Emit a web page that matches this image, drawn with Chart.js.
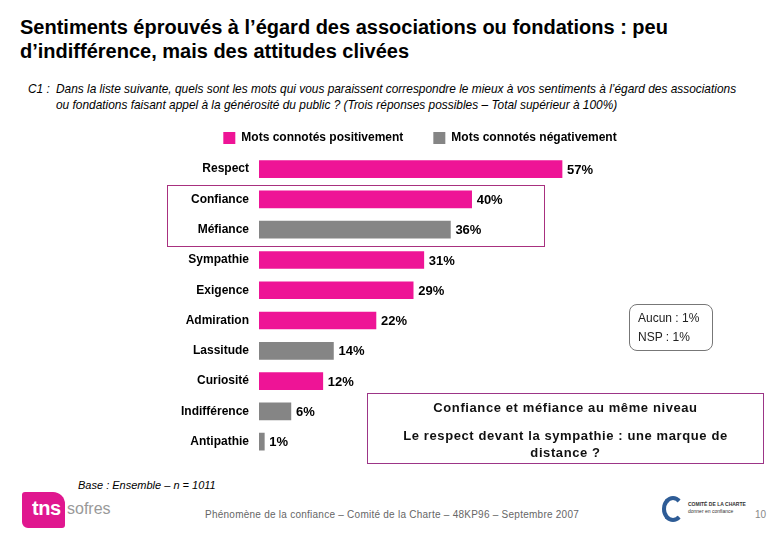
<!DOCTYPE html>
<html>
<head>
<meta charset="utf-8">
<script src="https://cdn.jsdelivr.net/npm/chart.js@4.4.1/dist/chart.umd.min.js"></script>
<style>
  body { margin: 0; background: #fff; font-family: "Liberation Sans", Arial, sans-serif; }
  #page { position: relative; width: 780px; height: 540px; overflow: hidden; }
  .abs { position: absolute; }
  #title { left: 20px; top: 15px; font-size: 20px; font-weight: bold; line-height: 24px; color: #000; }
  #question { left: 28px; top: 81px; font-size: 11.9px; font-style: italic; line-height: 16px; color: #000; white-space: nowrap; }
  #question .lbl { position: absolute; left: 0; top: 0; }
  #question .txt { position: absolute; left: 28px; top: 0; }
  #chartWrap { left: 60px; top: 100px; width: 720px; height: 374px; }
  #hiBox { left: 167px; top: 185px; width: 376px; height: 60px; border: 1px solid #a8307f; pointer-events: none; }
  #nsBox { left: 629px; top: 304px; width: 84px; height: 47px; border: 1px solid #777; border-radius: 8px;
           font-size: 12px; line-height: 19px; color: #222; box-sizing: border-box; padding: 4px 0 0 8px; }
  #noteBox { left: 367px; top: 393px; width: 397px; height: 71px; border: 1px solid #9c3587; box-sizing: border-box;
             text-align: center; font-size: 13px; font-weight: bold; letter-spacing: 0.6px; color: #111; line-height: 17px; }
  #base { left: 78px; top: 479px; font-size: 11px; font-style: italic; color: #000; }
  #foot { left: 205px; top: 509px; font-size: 10px; letter-spacing: 0.25px; color: #666; white-space: nowrap; }
  #pageNum { left: 755px; top: 509px; font-size: 10px; color: #888; }
  #tns { left: 22px; top: 492px; width: 43px; height: 36px; background: #e0178f; border-radius: 3px 12px 3px 6px; }
  #tnsTxt { left: 32px; top: 497px; font-size: 20px; font-weight: bold; color: #fff; letter-spacing: -0.5px; }
  #sofres { left: 67px; top: 500px; font-size: 16px; color: #999; }
  #cLogo { left: 662px; top: 496px; width: 22px; height: 26px; border: 4px solid #2e5c96; border-right-color: transparent;
           border-radius: 50%; box-sizing: border-box; }
  #cTxt { left: 688px; top: 501px; font-size: 5px; font-weight: bold; color: #333; line-height: 7px; }
</style>
</head>
<body>
<div id="page">
  <div id="title" class="abs">Sentiments éprouvés à l’égard des associations ou fondations : peu<br>d’indifférence, mais des attitudes clivées</div>
  <div id="question" class="abs">
    <span class="lbl">C1 :</span>
    <div class="txt">Dans la liste suivante, quels sont les mots qui vous paraissent correspondre le mieux à vos sentiments à l’égard des associations<br>ou fondations faisant appel à la générosité du public ? (Trois réponses possibles – Total supérieur à 100%)</div>
  </div>
  <div id="chartWrap" class="abs"><canvas id="chartSentiments" width="720" height="374"></canvas></div>
  <div id="hiBox" class="abs"></div>
  <div id="nsBox" class="abs">Aucun : 1%<br>NSP : 1%</div>
  <div id="noteBox" class="abs">
    <div style="margin-top:5px">Confiance et méfiance au même niveau</div>
    <div style="margin-top:11px">Le respect devant la sympathie : une marque de<br>distance ?</div>
  </div>
  <div id="base" class="abs">Base : Ensemble – n = 1011</div>
  <div id="tns" class="abs"></div>
  <div id="tnsTxt" class="abs">tns</div>
  <div id="sofres" class="abs">sofres</div>
  <div id="foot" class="abs">Phénomène de la confiance – Comité de la Charte – 48KP96 – Septembre 2007</div>
  <div id="cLogo" class="abs"></div>
  <div id="cTxt" class="abs">COMITÉ DE LA CHARTE<br><span style="font-weight:normal">donner en confiance</span></div>
  <div id="pageNum" class="abs">10</div>
</div>

<script>
const categories = ['Respect', 'Confiance', 'Méfiance', 'Sympathie', 'Exigence',
  'Admiration', 'Lassitude', 'Curiosité', 'Indifférence', 'Antipathie'];
const positiveValues = [57, 40, null, 31, 29, 22, null, 12, null, null];
const negativeValues = [null, null, 36, null, null, null, 14, null, 6, 1];

const pink = '#ee1496';
const grey = '#858585';

// etiquettes de valeur au bout des barres
const valueLabels = {
  id: 'valueLabels',
  afterDatasetsDraw(chart) {
    const ctx = chart.ctx;
    ctx.save();
    ctx.font = 'bold 13px "Liberation Sans", Arial, sans-serif';
    ctx.fillStyle = '#000';
    ctx.textBaseline = 'middle';
    chart.data.datasets.forEach((ds, i) => {
      chart.getDatasetMeta(i).data.forEach((bar, j) => {
        if (ds.data[j] == null) return;
        ctx.fillText(ds.data[j] + '%', bar.x + 5, bar.y + 1);
      });
    });
    ctx.restore();
  }
};

const ctxSentiments = document.getElementById('chartSentiments');

new Chart(ctxSentiments, {
  type: 'bar',
  data: {
    labels: categories,
    datasets: [{
      label: 'Mots connotés positivement',
      data: positiveValues,
      backgroundColor: pink,
      borderWidth: 0
    }, {
      label: 'Mots connotés négativement',
      data: negativeValues,
      backgroundColor: grey,
      borderWidth: 0
    }]
  },
  options: {
    indexAxis: 'y',
    responsive: false,
    animation: false,
    grouped: false,
    barThickness: 17,
    layout: { padding: { top: 2, right: 0, left: 0, bottom: 0 } },
    scales: {
      x: { display: false, min: 0, max: 98 },
      y: {
        grid: { display: false, drawTicks: false },
        border: { display: false },
        ticks: {
          color: '#000',
          padding: 10,
          font: { family: '"Liberation Sans", Arial, sans-serif', size: 12, weight: 'bold' }
        },
        afterFit(scale) { scale.width = 199; }
      }
    },
    plugins: {
      tooltip: { enabled: false },
      legend: {
        labels: {
          boxWidth: 12,
          boxHeight: 12,
          padding: 30,
          color: '#000',
          font: { family: '"Liberation Sans", Arial, sans-serif', size: 12, weight: 'bold' }
        }
      }
    }
  },
  plugins: [valueLabels]
});
</script>
</body>
</html>
